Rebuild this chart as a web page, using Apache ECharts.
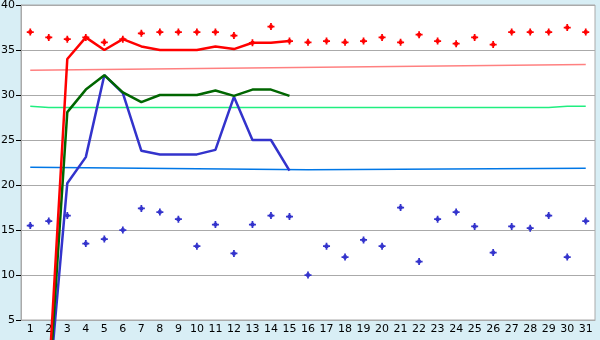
<!DOCTYPE html>
<html>
<head>
<meta charset="utf-8">
<script src="https://cdn.jsdelivr.net/npm/echarts@6/dist/echarts.min.js"></script>
<style>
html,body{margin:0;padding:0;background:#d8eef5;}
#c{width:600px;height:340px;}
</style>
</head>
<body>
<div id="c"></div>
<script>
var categories = ['1','2','3','4','5','6','7','8','9','10','11','12','13','14','15','16','17','18','19','20','21','22','23','24','25','26','27','28','29','30','31'];
var redLine   = [null,-1.5,34.0,36.4,35.0,36.2,35.4,35.0,35.0,35.0,35.4,35.1,35.8,35.8,36.0];
var greenLine = [null,-3,28.1,30.6,32.2,30.3,29.2,30.0,30.0,30.0,30.5,29.9,30.6,30.6,29.9];
var blueLine  = [null,-3,20.2,23.1,32.2,30.2,23.8,23.4,23.4,23.4,23.9,29.8,25.0,25.0,21.6];
var redDots  = [37.0,36.4,36.2,36.4,35.85,36.2,36.85,37.0,37.0,37.0,37.0,36.6,35.8,37.6,36.0,35.85,36.0,35.85,36.0,36.4,35.85,36.7,36.0,35.7,36.4,35.6,37.0,37.0,37.0,37.5,37.0];
var blueDots = [15.5,16.0,16.6,13.5,14.0,15.0,17.4,17.0,16.2,13.2,15.6,12.4,15.6,16.6,16.5,10.0,13.2,12.0,13.9,13.2,17.5,11.5,16.2,17.0,15.4,12.5,15.4,15.2,16.6,12.0,16.0];
var redTrend   = [32.75,null,null,null,null,null,null,null,null,null,null,null,null,null,null,null,null,null,null,null,null,null,null,null,null,null,null,null,null,null,33.4];
var greenTrend = [28.75,28.62,null,null,null,null,null,null,null,null,null,null,null,null,null,null,null,null,null,null,null,null,null,null,null,null,null,null,28.62,28.75,28.75];
var blueTrend  = [21.97,null,null,null,null,null,null,null,null,null,null,null,null,null,null,21.7,null,null,null,null,null,null,null,null,null,null,null,null,null,null,21.87];
var yTicks = {min:5, max:40, step:5};

var plus = 'path://M3,0 H5 V2 H6 V3 H8 V5 H6 V6 H5 V8 H3 V6 H2 V5 H0 V3 H2 V2 H3 Z';
var font = 'DejaVu Sans';
function trend(d, c){ return {type:'line', data:d, connectNulls:true, showSymbol:false, symbol:'none', silent:true, lineStyle:{color:c, width:1.5}, z:1}; }
function main(d, c){ return {type:'line', data:d, showSymbol:false, symbol:'none', clip:false, lineStyle:{color:c, width:2.5}, z:2}; }
function dots(d, c){ return {type:'scatter', data:d, symbol:plus, symbolSize:7, itemStyle:{color:c, opacity:1}, z:3}; }

var chart = echarts.init(document.getElementById('c'), null, {renderer:'canvas'});
chart.setOption({
  backgroundColor:'#d8eef5',
  animation:false,
  grid:{left:21, right:5, top:5, bottom:20, containLabel:false, outerBoundsMode:'none', show:true, backgroundColor:'#ffffff', borderColor:'#aaaaaa', borderWidth:1},
  xAxis:{type:'category', data:categories, boundaryGap:true,
    axisLine:{lineStyle:{color:'#aaaaaa'}},
    axisTick:{alignWithLabel:true, interval:0, length:5, lineStyle:{color:'#000'}},
    axisLabel:{interval:0, color:'#000', fontFamily:font, fontSize:11, margin:4},
    splitLine:{show:false}},
  yAxis:{type:'value', min:yTicks.min, max:yTicks.max, interval:yTicks.step,
    axisLine:{show:true, lineStyle:{color:'#aaaaaa'}},
    axisTick:{show:true, length:5, lineStyle:{color:'#000'}},
    axisLabel:{color:'#000', fontFamily:font, fontSize:11, margin:6},
    splitLine:{lineStyle:{color:'#aaaaaa', width:1}}},
  series:[
    trend(redTrend,'#ff8080'),
    trend(greenTrend,'#20ee80'),
    trend(blueTrend,'#0077e6'),
    main(blueLine,'#3333cc'),
    main(greenLine,'#006600'),
    main(redLine,'#ff0000'),
    dots(redDots,'#ff0000'),
    dots(blueDots,'#3333cc')
  ]
});
</script>
</body>
</html>
